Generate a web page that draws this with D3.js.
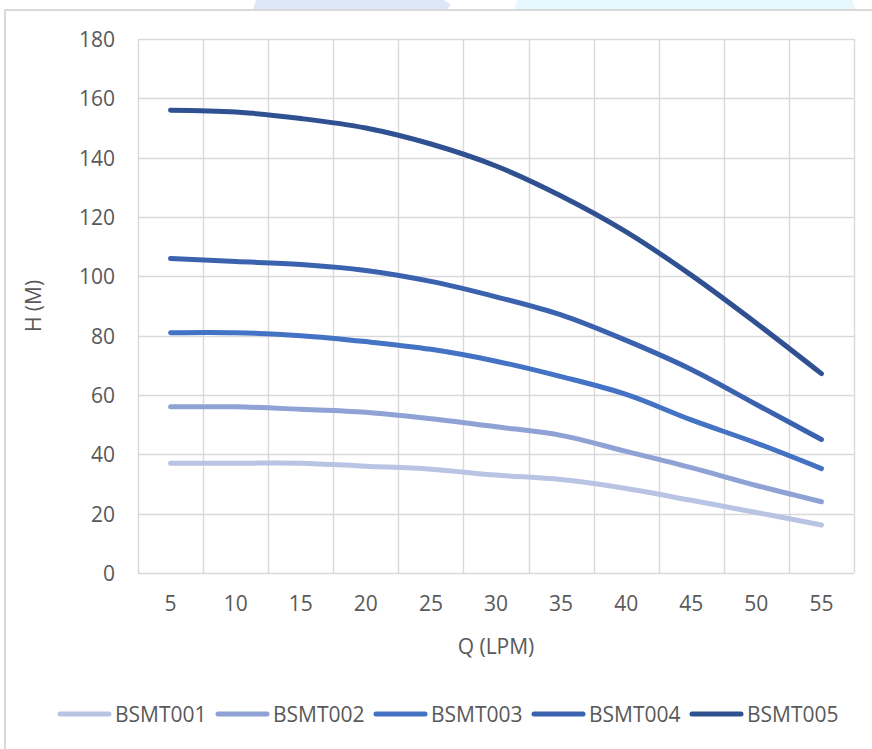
<!DOCTYPE html>
<html>
<head>
<meta charset="utf-8">
<script src="https://cdn.jsdelivr.net/npm/d3@7"></script>
<style>
  html, body { margin: 0; padding: 0; background: #ffffff; }
  svg { display: block; }
  text { font-family: "Open Sans", "Noto Sans", sans-serif; fill: #595959; }
</style>
</head>
<body>
<svg id="chart" width="872" height="749"></svg>
<script>
// ---- data ----
const categories = [5, 10, 15, 20, 25, 30, 35, 40, 45, 50, 55];
const seriesNames = ["BSMT001", "BSMT002", "BSMT003", "BSMT004", "BSMT005"];
const BSMT001 = [37, 37, 37, 36, 35, 33, 31.5, 28.5, 24.5, 20.4, 16.2];
const BSMT002 = [56, 56, 55.2, 54.2, 52, 49.3, 46.4, 41, 35.5, 29.5, 24];
const BSMT003 = [81, 81, 80, 78, 75.4, 71.4, 66.2, 60.2, 51.6, 43.8, 35.2];
const BSMT004 = [106, 105, 104, 102, 98.3, 93.1, 87, 78.4, 68.6, 56.8, 45];
const BSMT005 = [156, 155.4, 153.2, 150, 144.6, 137.2, 127.1, 115, 100.4, 84.2, 67.2];
const yTicks = [0, 20, 40, 60, 80, 100, 120, 140, 160, 180];
const colors = ["#b9c3e4", "#8fa2d5", "#4472c4", "#3a62ae", "#2f5191"];
const xTitle = "Q (LPM)";
const yTitle = "H (M)";

const seriesValues = [BSMT001, BSMT002, BSMT003, BSMT004, BSMT005];
const series = seriesNames.map((name, i) => ({
  name, color: colors[i],
  values: categories.map((c, j) => ({ c, v: seriesValues[i][j] }))
}));

// ---- layout ----
const svg = d3.select("#chart");
const plot = { left: 138, right: 854, top: 39, bottom: 573 };

// decorative background fragments at the top edge and frame
svg.append("path").attr("d", "M256,0 L444,0 L451,5 L447,9 L253,9 Z").attr("fill", "#dde7f8");
svg.append("path").attr("d", "M518,0 L852,0 L856,9 L514,9 Z").attr("fill", "#e6f7fd");
svg.append("path").attr("d", "M5,749 L5,10 L872,10")
  .attr("fill", "none").attr("stroke", "#d9d9d9").attr("stroke-width", 2);

const x = d3.scaleBand().domain(categories).range([plot.left, plot.right]).paddingInner(0).paddingOuter(0);
const y = d3.scaleLinear().domain([0, 180]).range([plot.bottom, plot.top]);

// gridlines
const grid = svg.append("g").attr("stroke", "#d9d9d9").attr("stroke-width", 1.4).attr("fill", "none");
grid.selectAll("line.h").data(yTicks).join("line").attr("class", "h")
  .attr("x1", plot.left).attr("x2", plot.right)
  .attr("y1", d => Math.round(y(d)) + 0.5).attr("y2", d => Math.round(y(d)) + 0.5);
const edges = categories.map(c => x(c)).concat([x(categories[categories.length - 1]) + x.bandwidth()]);
grid.selectAll("line.v").data(edges).join("line").attr("class", "v")
  .attr("x1", d => Math.round(d) + 0.5).attr("x2", d => Math.round(d) + 0.5)
  .attr("y1", plot.top).attr("y2", plot.bottom);

// axes (labels only)
const yAxis = svg.append("g").attr("transform", `translate(${plot.left},0)`)
  .call(d3.axisLeft(y).tickValues(yTicks).tickSize(0).tickPadding(23));
yAxis.select(".domain").remove();
yAxis.selectAll("text").attr("font-size", 21).attr("font-family", "Open Sans").attr("fill", "#595959").attr("dy", "0.36em");

const xAxis = svg.append("g").attr("transform", `translate(0,${plot.bottom})`)
  .call(d3.axisBottom(x).tickSize(0).tickPadding(23));
xAxis.select(".domain").remove();
xAxis.selectAll("text").attr("font-size", 21).attr("font-family", "Open Sans").attr("fill", "#595959");

// titles
svg.append("text").attr("x", (plot.left + plot.right) / 2).attr("y", 654)
  .attr("text-anchor", "middle").attr("font-size", 21).text(xTitle);
svg.append("text").attr("transform", `translate(${41},${(plot.top + plot.bottom) / 2}) rotate(-90)`)
  .attr("text-anchor", "middle").attr("font-size", 21).text(yTitle);

// lines
const line = d3.line()
  .x(d => x(d.c) + x.bandwidth() / 2)
  .y(d => y(d.v))
  .curve(d3.curveCatmullRom.alpha(0.5));
svg.append("g").selectAll("path.series").data(series).join("path").attr("class", "series")
  .attr("d", d => line(d.values))
  .attr("fill", "none").attr("stroke", d => d.color).attr("stroke-width", 5)
  .attr("stroke-linecap", "round").attr("stroke-linejoin", "round");

// legend
const legend = svg.append("g");
const items = legend.selectAll("g").data(series).join("g")
  .attr("transform", (d, i) => `translate(${115 + i * 158},714)`);
items.append("line").attr("x1", -55).attr("x2", -6).attr("y1", 0).attr("y2", 0)
  .attr("stroke", d => d.color).attr("stroke-width", 5).attr("stroke-linecap", "round");
items.append("text").attr("x", 0).attr("y", 0).attr("dy", "0.36em")
  .attr("font-size", 21).text(d => d.name);
</script>
</body>
</html>
